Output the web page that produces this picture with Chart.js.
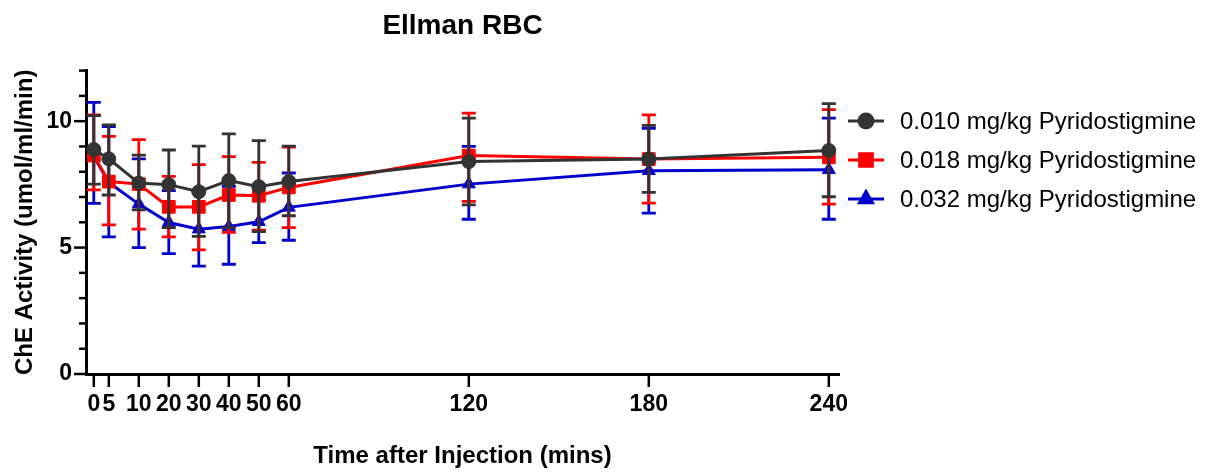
<!DOCTYPE html>
<html>
<head>
<meta charset="utf-8">
<script src="https://cdn.jsdelivr.net/npm/chart.js@4.4.1/dist/chart.umd.min.js"></script>
<style>
html, body { margin: 0; padding: 0; background: #fff; }
#wrap { width: 1221px; height: 472px; }
</style>
</head>
<body>
<div id="wrap"><canvas id="chart"></canvas></div>
<script>
// x axis: baseline "0" sits one step before the 5 min point
var timeLabels = ['0', '5', '10', '20', '30', '40', '50', '60', '120', '180', '240'];
var timeValues = [-5, 0, 10, 20, 30, 40, 50, 60, 120, 180, 240];

var seriesNames = ['0.010 mg/kg Pyridostigmine', '0.018 mg/kg Pyridostigmine', '0.032 mg/kg Pyridostigmine'];

var mean010 = [8.88, 8.51, 7.55, 7.49, 7.21, 7.65, 7.41, 7.61, 8.40, 8.50, 8.84];
var high010 = [10.22, 9.85, 8.66, 8.86, 9.01, 9.50, 9.23, 9.01, 10.12, 9.83, 10.69];
var low010  = [7.51, 7.08, 6.49, 5.79, 5.44, 5.79, 5.63, 6.26, 6.69, 7.18, 7.01];

var mean018 = [8.64, 7.61, 7.51, 6.61, 6.61, 7.08, 7.05, 7.38, 8.64, 8.50, 8.57];
var high018 = [10.25, 9.40, 9.27, 7.82, 8.28, 8.60, 8.37, 8.97, 10.32, 10.25, 10.46];
var low018  = [7.28, 5.90, 5.73, 5.42, 4.91, 5.60, 5.69, 5.79, 6.83, 6.76, 6.72];

var mean032 = [8.60, 7.58, 6.72, 5.99, 5.73, 5.83, 6.02, 6.59, 7.51, 8.04, 8.08];
var high032 = [10.74, 9.79, 8.51, 7.25, 7.21, 7.42, 6.88, 7.95, 9.00, 9.72, 10.12];
var low032  = [6.75, 5.42, 5.00, 4.76, 4.27, 4.34, 5.20, 5.29, 6.12, 6.36, 6.12];

var yTicks = [0, 5, 10];

var FONT = '"Liberation Sans", Arial, sans-serif';

function points(vals) {
  return vals.map(function(v, i) { return { x: timeValues[i], y: v }; });
}

function makeSet(name, color, style, radius, vals, hi, lo) {
  return {
    label: name,
    data: points(vals),
    hi: hi,
    lo: lo,
    borderColor: color,
    backgroundColor: color,
    borderWidth: 3,
    pointStyle: style,
    pointRadius: radius,
    pointBorderWidth: 1,
    pointBackgroundColor: color,
    pointBorderColor: color,
    tension: 0,
    clip: false
  };
}

// error bars, drawn just before each dataset's own line
var errorBars = {
  id: 'errorBars',
  beforeDatasetDraw: function(chart, args) {
    var ds = chart.data.datasets[args.index];
    var ctx = chart.ctx, xs = chart.scales.x, ys = chart.scales.y;
    ctx.save();
    ctx.strokeStyle = ds.borderColor;
    ctx.lineWidth = 2.8;
    ds.data.forEach(function(p, i) {
      var px = xs.getPixelForValue(p.x);
      var top = ys.getPixelForValue(ds.hi[i]);
      var bot = ys.getPixelForValue(ds.lo[i]);
      ctx.beginPath();
      ctx.moveTo(px, top); ctx.lineTo(px, bot);
      ctx.moveTo(px - 7, top); ctx.lineTo(px + 7, top);
      ctx.moveTo(px - 7, bot); ctx.lineTo(px + 7, bot);
      ctx.stroke();
    });
    ctx.restore();
  }
};

// prism style tick marks (long major, short minor)
var axisTicks = {
  id: 'axisTicks',
  afterDraw: function(chart) {
    var ctx = chart.ctx, a = chart.chartArea;
    var xs = chart.scales.x, ys = chart.scales.y;
    ctx.save();
    ctx.strokeStyle = '#000';
    ctx.lineWidth = 2.5;
    ys.ticks.forEach(function(t) {
      var py = ys.getPixelForValue(t.value);
      var len = yTicks.indexOf(t.value) >= 0 ? 12 : 7;
      ctx.beginPath(); ctx.moveTo(a.left - len, py); ctx.lineTo(a.left, py); ctx.stroke();
    });
    xs.ticks.forEach(function(t) {
      var px = xs.getPixelForValue(t.value);
      ctx.beginPath(); ctx.moveTo(px, a.bottom); ctx.lineTo(px, a.bottom + 13); ctx.stroke();
    });
    ctx.restore();
  }
};

// legend with line + marker sample
var sideLegend = {
  id: 'sideLegend',
  afterDraw: function(chart) {
    var ctx = chart.ctx, a = chart.chartArea;
    var x0 = a.right + 9;
    ctx.save();
    chart.data.datasets.forEach(function(ds, i) {
      var y = 121 + i * 39;
      ctx.strokeStyle = ds.borderColor;
      ctx.lineWidth = 3;
      ctx.beginPath(); ctx.moveTo(x0, y); ctx.lineTo(x0 + 36, y); ctx.stroke();
      ctx.fillStyle = ds.borderColor;
      Chart.helpers.drawPoint(ctx, { pointStyle: ds.pointStyle, radius: ds.pointRadius, borderWidth: 1, rotation: 0 }, x0 + 18, y);
      ctx.fill();
      ctx.fillStyle = '#000';
      ctx.font = '24px ' + FONT;
      ctx.textBaseline = 'middle';
      ctx.textAlign = 'left';
      ctx.fillText(ds.label, x0 + 52, y + 1);
    });
    ctx.restore();
  }
};

new Chart(document.getElementById('chart'), {
  type: 'line',
  data: {
    datasets: [
      makeSet(seriesNames[0], '#333333', 'circle', 7, mean010, high010, low010),
      makeSet(seriesNames[1], '#ff0000', 'rect', 9, mean018, high018, low018),
      makeSet(seriesNames[2], '#0000cc', 'triangle', 7.5, mean032, high032, low032)
    ]
  },
  options: {
    responsive: true,
    maintainAspectRatio: false,
    animation: false,
    devicePixelRatio: 1,
    layout: { padding: { right: 382 } },
    plugins: {
      legend: { display: false },
      tooltip: { enabled: false },
      title: {
        display: true,
        fullSize: false,
        text: 'Ellman RBC',
        color: '#000',
        font: { family: FONT, size: 28, weight: 'bold' },
        padding: { top: 9, bottom: 28 }
      }
    },
    scales: {
      x: {
        type: 'linear',
        min: -7.6,
        max: 243.4,
        afterBuildTicks: function(scale) {
          scale.ticks = timeValues.map(function(v) { return { value: v }; });
        },
        afterFit: function(scale) { scale.height = 98; },
        ticks: {
          autoSkip: false,
          maxRotation: 0,
          padding: 17,
          color: '#000',
          font: { family: FONT, size: 23, weight: 'bold' },
          callback: function(v, i) { return timeLabels[i]; }
        },
        grid: { display: true, drawOnChartArea: false, drawTicks: false },
        border: { display: true, color: '#000', width: 3 },
        title: {
          display: true,
          text: 'Time after Injection (mins)',
          color: '#000',
          font: { family: FONT, size: 24, weight: 'bold' },
          padding: { top: 0, bottom: 1 }
        }
      },
      y: {
        min: 0,
        max: 12,
        afterFit: function(scale) { scale.width = 86; },
        ticks: {
          stepSize: 1,
          autoSkip: false,
          padding: 14,
          color: '#000',
          font: { family: FONT, size: 23, weight: 'bold' },
          callback: function(v) { return yTicks.indexOf(v) >= 0 ? v : ''; }
        },
        grid: { display: true, drawOnChartArea: false, drawTicks: false },
        border: { display: true, color: '#000', width: 3 },
        title: {
          display: true,
          text: 'ChE Activity (umol/ml/min)',
          color: '#000',
          font: { family: FONT, size: 24, weight: 'bold' },
          padding: { top: 11, bottom: 0 }
        }
      }
    }
  },
  plugins: [errorBars, axisTicks, sideLegend]
});
</script>
</body>
</html>
